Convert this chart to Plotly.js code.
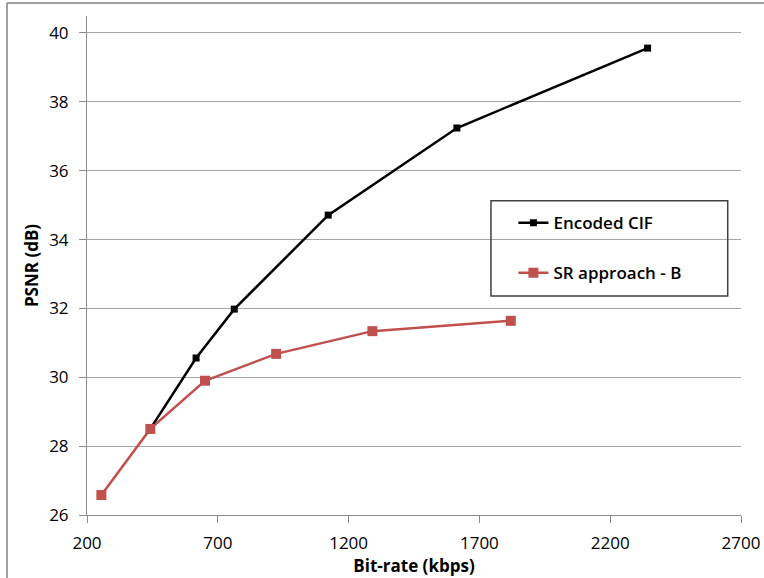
<!DOCTYPE html>
<html>
<head>
<meta charset="utf-8">
<script src="https://cdn.plot.ly/plotly-3.0.1.min.js"></script>
<style>html,body{margin:0;padding:0;background:#fff;}#chart{width:764px;height:578px;}</style>
</head>
<body>
<div id="chart"></div>
<script>
const cifRate = [442, 617, 763, 1122, 1614, 2343];
const cifPsnr = [28.50, 30.56, 31.98, 34.71, 37.24, 39.56];
const srRate = [255, 442, 651, 923, 1291, 1820];
const srPsnr = [26.58, 28.50, 29.90, 30.68, 31.34, 31.64];
const seriesNames = ["Encoded CIF", "SR approach - B"];
const xTicks = [200, 700, 1200, 1700, 2200, 2700];
const yTicks = [26, 28, 30, 32, 34, 36, 38, 40];

const FONT = "Open Sans, Noto Sans, sans-serif";

const traces = [
  {x: cifRate, y: cifPsnr, name: seriesNames[0], type: "scatter", mode: "lines+markers",
   legendgroup: "a",
   line: {color: "#000000", width: 2.5}, marker: {symbol: "square", size: 7, color: "#000000"}},
  {x: srRate, y: srPsnr, name: seriesNames[1], type: "scatter", mode: "lines+markers",
   legendgroup: "b",
   line: {color: "#c0504d", width: 2.5}, marker: {symbol: "square", size: 10, color: "#c0504d"}}
];

const layout = {
  width: 764, height: 578,
  margin: {l: 87, r: 23, t: 16, b: 63},
  paper_bgcolor: "#ffffff", plot_bgcolor: "#ffffff",
  font: {family: FONT, color: "#000000"},
  showlegend: true,
  legend: {
    x: 0.652, y: 0.621, xanchor: "left", yanchor: "top",
    bgcolor: "rgba(0,0,0,0)", borderwidth: 0,
    font: {family: FONT, size: 17, weight: 600, color: "#000000"},
    traceorder: "grouped", tracegroupgap: 25
  },
  xaxis: {
    range: [200, 2700], tickvals: xTicks, ticktext: xTicks.map(String),
    showgrid: false, zeroline: false,
    showline: true, linecolor: "#8c8c8c", linewidth: 1,
    ticks: "outside", ticklen: 7, tickcolor: "#8c8c8c",
    tickfont: {family: FONT, size: 17, color: "#000000"},
    ticklabelstandoff: 6,
    title: {text: "Bit-rate (kbps)", font: {family: FONT, size: 17, weight: 700}, standoff: 2}
  },
  yaxis: {
    range: [26, 40.493], tickvals: yTicks, ticktext: yTicks.map(String),
    showgrid: true, gridcolor: "#a6a6a6", gridwidth: 1, zeroline: false,
    showline: true, linecolor: "#8c8c8c", linewidth: 1,
    ticks: "outside", ticklen: 7, tickcolor: "#8c8c8c",
    tickfont: {family: FONT, size: 17, color: "#000000"},
    ticklabelstandoff: 7,
    title: {text: "PSNR (dB)", font: {family: FONT, size: 17, weight: 700}, standoff: 6}
  },
  shapes: [
    {type: "rect", xref: "paper", yref: "paper", x0: 0.6177, x1: 0.9797, y0: 0.4389, y1: 0.6299,
     line: {color: "#404040", width: 1.5}, fillcolor: "rgba(0,0,0,0)"},
    {type: "line", xref: "paper", yref: "paper", x0: -0.1223, x1: -0.1223, y0: -0.2, y1: 1.026,
     line: {color: "#808080", width: 1.5}},
    {type: "line", xref: "paper", yref: "paper", x0: -0.1223, x1: 1.1, y0: 1.026, y1: 1.026,
     line: {color: "#808080", width: 1.5}}
  ]
};

Plotly.newPlot("chart", traces, layout, {staticPlot: true, displayModeBar: false});
</script>
</body>
</html>
